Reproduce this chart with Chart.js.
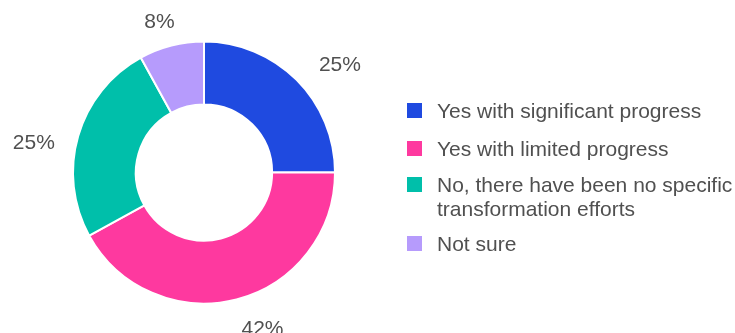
<!DOCTYPE html>
<html>
<head>
<meta charset="utf-8">
<script src="https://cdn.jsdelivr.net/npm/chart.js@4"></script>
<style>
  body { margin: 0; background: #fff; font-family: "Liberation Sans", Arial, sans-serif; }
  #wrap { position: relative; width: 735px; height: 333px; overflow: hidden; }
  #chartBox { position: absolute; left: 0; top: 0; width: 408px; height: 333px; }
  #legend { position: absolute; left: 407px; top: 0; width: 328px; }
  .item { position: absolute; left: 0; display: flex; align-items: flex-start; }
  .sw { width: 15px; height: 15px; margin-top: 0px; margin-right: 15px; flex: none; }
  .txt { font-size: 21px; line-height: 24px; color: #505050; margin-top: -4px; white-space: nowrap; }
</style>
</head>
<body>
<div id="wrap">
  <div id="chartBox"><canvas id="donut"></canvas></div>
  <div id="legend"></div>
</div>
<script>
// Chart data
const categories = ["Yes with significant progress", "Yes with limited progress", "No, there have been no specific transformation efforts", "Not sure"];
const legendLines = [["Yes with significant progress"], ["Yes with limited progress"], ["No, there have been no specific", "transformation efforts"], ["Not sure"]];
const values = [25, 42, 25, 8];
const colors = ["#1f4ae0", "#fe399f", "#00bfaa", "#b69bfc"];

// HTML legend
const legendTops = [103, 141, 177, 236];
const legendEl = document.getElementById('legend');
categories.forEach((c, i) => {
    legendEl.innerHTML += `
        <div class="item" style="top:${legendTops[i]}px">
            <div class="sw" style="background:${colors[i]}"></div>
            <div class="txt">${legendLines[i].join('<br>')}</div>
        </div>`;
});

// percentage labels outside each slice
const outsideLabels = {
    id: 'outsideLabels',
    afterDraw(chart, args, opts) {
        const ctx = chart.ctx;
        const meta = chart.getDatasetMeta(0);
        ctx.save();
        ctx.font = '21px "Liberation Sans", Arial, sans-serif';
        ctx.fillStyle = '#505050';
        ctx.textAlign = 'center';
        ctx.textBaseline = 'middle';
        meta.data.forEach((arc, i) => {
            const p = arc.getProps(['x', 'y', 'startAngle', 'endAngle', 'outerRadius']);
            const mid = (p.startAngle + p.endAngle) / 2;
            const r = p.outerRadius + 40;
            const n = opts.nudge[i];
            ctx.fillText(values[i] + '%', p.x + Math.cos(mid) * r + n[0], p.y + Math.sin(mid) * r + n[1]);
        });
        ctx.restore();
    }
};

new Chart(document.getElementById('donut').getContext('2d'), {
    type: 'doughnut',
    data: {
        labels: categories,
        datasets: [{
            data: values,
            backgroundColor: colors,
            borderColor: '#ffffff',
            borderWidth: 2
        }]
    },
    options: {
        responsive: true,
        maintainAspectRatio: false,
        animation: false,
        cutout: '52%',
        layout: { padding: { top: 40, bottom: 28, left: 72, right: 72 } },
        plugins: {
            legend: { display: false },
            tooltip: { enabled: false },
            outsideLabels: { nudge: [[15, 14], [16, -9], [-6, 18], [-2, 15]] }
        }
    },
    plugins: [outsideLabels]
});
</script>
</body>
</html>
